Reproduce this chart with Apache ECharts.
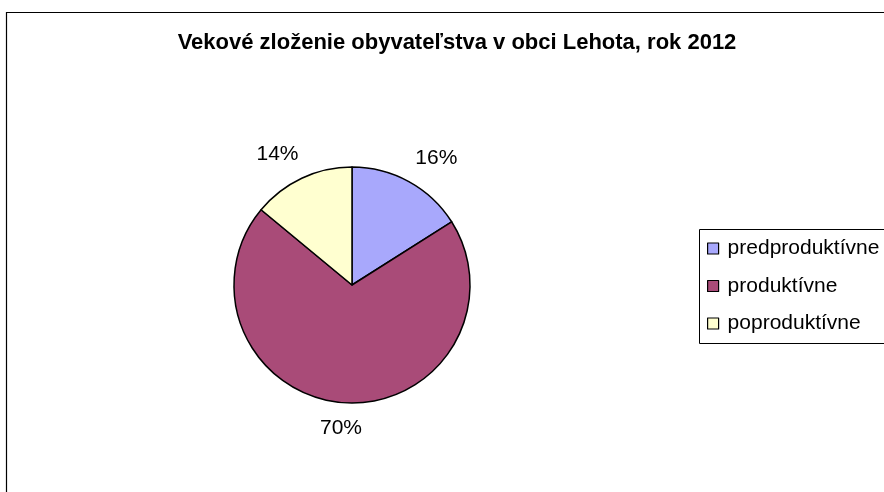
<!DOCTYPE html>
<html>
<head>
<meta charset="utf-8">
<script src="https://cdn.jsdelivr.net/npm/echarts@6/dist/echarts.min.js"></script>
<style>
  html, body { margin: 0; padding: 0; background: #fff; }
  #chart { width: 884px; height: 492px; }
</style>
</head>
<body>
<div id="chart"></div>
<script>
// data
var categories = ["predproduktívne", "produktívne", "poproduktívne"];
var shares = [16, 70, 14];
var colors = ["#a8a8fc", "#a94b78", "#ffffd0"];

var chart = echarts.init(document.getElementById("chart"));
var font = "'Liberation Sans', Arial, sans-serif";

// place labels Excel-style: box touches a point on the ray through the slice middle
function excelLabel(params) {
  var pts = params.labelLinePoints;
  if (!pts) return {};
  var p0 = pts[0], p1 = pts[1];
  var dx = p1[0] - p0[0], dy = p1[1] - p0[1];
  var len = Math.sqrt(dx * dx + dy * dy) || 1;
  var ux = dx / len, uy = dy / len;
  var w = params.labelRect.width, h = params.labelRect.height;
  var kx = Math.max(-1, Math.min(1, ux * 2));
  var ky = Math.max(-1, Math.min(1, uy * 2));
  return {
    x: p1[0] + kx * w / 2,
    y: p1[1] + ky * h / 2,
    align: "center",
    verticalAlign: "middle"
  };
}

chart.setOption({
  backgroundColor: "#fff",
  animation: false,
  title: {
    text: "Vekové zloženie obyvateľstva v obci Lehota, rok 2012",
    left: 452,
    textAlign: "center",
    top: 27,
    textStyle: { fontFamily: font, fontSize: 22, fontWeight: "bold", color: "#000" }
  },
  graphic: [
    {
      // outer chart frame
      type: "rect",
      shape: { x: 6.5, y: 12.5, width: 900, height: 500 },
      style: { fill: null, stroke: "#000", lineWidth: 1.2 },
      z: -1
    },
    {
      // legend frame
      type: "rect",
      shape: { x: 699.5, y: 229.5, width: 200, height: 114 },
      style: { fill: "#fff", stroke: "#000", lineWidth: 1 },
      z: -1
    }
  ],
  legend: {
    orient: "vertical",
    left: 702,
    top: 233,
    itemWidth: 11,
    itemHeight: 11,
    itemGap: 16.5,
    icon: "rect",
    data: categories,
    itemStyle: { borderColor: "#000", borderWidth: 1.2 },
    textStyle: { fontFamily: font, fontSize: 21, color: "#000", padding: [0, 0, 0, 4] }
  },
  series: [
    {
      type: "pie",
      center: [352, 285],
      radius: 118,
      startAngle: 90,
      clockwise: true,
      color: colors,
      avoidLabelOverlap: false,
      itemStyle: { borderColor: "#000", borderWidth: 1.5 },
      label: {
        show: true,
        position: "outside",
        formatter: "{c}%",
        fontFamily: font,
        fontSize: 21,
        color: "#000"
      },
      labelLine: { show: true, length: 15, length2: 0, lineStyle: { opacity: 0 } },
      labelLayout: excelLabel,
      emphasis: { disabled: true },
      data: categories.map(function (name, i) {
        return { name: name, value: shares[i] };
      })
    }
  ]
});
</script>
</body>
</html>
